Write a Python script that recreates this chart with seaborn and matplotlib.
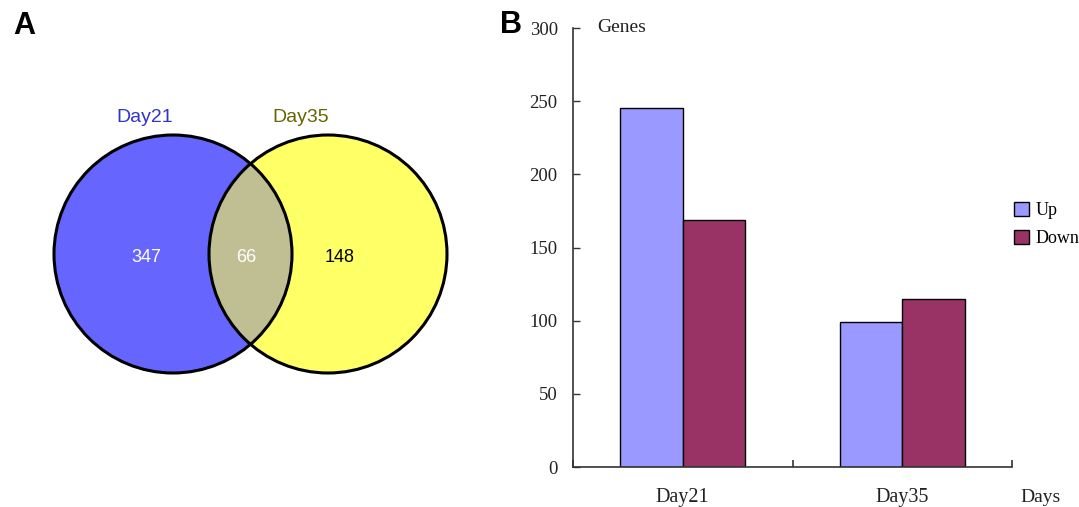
import matplotlib.pyplot as plt
import numpy as np
import pandas as pd
import seaborn as sns
from matplotlib.patches import Circle, Patch

# venn counts
venn_sets = ['Day21', 'Day35']
venn_counts = [347, 66, 148]  # only Day21, shared, only Day35

# bar chart data
days = ['Day21', 'Day21', 'Day35', 'Day35']
direction = ['Up', 'Down', 'Up', 'Down']
genes = [245, 169, 99, 115]
y_ticks = [0, 50, 100, 150, 200, 250, 300]

df = pd.DataFrame({'day': days, 'direction': direction, 'genes': genes})

sns.set_theme(style='white')
plt.rcParams['font.family'] = ['Liberation Serif', 'DejaVu Serif']
plt.rcParams['text.color'] = 'black'

W, H = 1079, 507
fig = plt.figure(figsize=(W / 100, H / 100), dpi=100)
fig.patch.set_facecolor('white')

# ---- panel A: venn, drawn in pixel coordinates
va = fig.add_axes([0, 0, 0.46, 1])
va.set_xlim(0, 0.46 * W)
va.set_ylim(H, 0)
va.axis('off')

r = 119
c1 = (173, 254)
c2 = (328, 254)
left = Circle(c1, r, facecolor='#6666FF', edgecolor='none')
right = Circle(c2, r, facecolor='#FFFF66', edgecolor='none')
va.add_patch(left)
va.add_patch(right)
mid = Circle(c2, r, facecolor='#BFBF93', edgecolor='none')
va.add_patch(mid)
mid.set_clip_path(left)
for c in (c1, c2):
    va.add_patch(Circle(c, r, facecolor='none', edgecolor='black', lw=2.2))

sans = ['Liberation Sans', 'DejaVu Sans']
va.text(145, 118, venn_sets[0], color='#3333CC', fontsize=14, family=sans,
        ha='center', va='center')
va.text(301, 118, venn_sets[1], color='#666600', fontsize=14, family=sans,
        ha='center', va='center')
va.text(146, 257, str(venn_counts[0]), color='white', fontsize=13, family=sans,
        ha='center', va='center')
va.text(246, 257, str(venn_counts[1]), color='white', fontsize=13, family=sans,
        ha='center', va='center')
va.text(340, 257, str(venn_counts[2]), color='black', fontsize=13, family=sans,
        ha='center', va='center')

fig.text(24 / W, 1 - 26 / H, 'A', fontsize=22, fontweight='bold', family=sans,
         color='black', ha='center', va='center')
fig.text(511 / W, 1 - 25 / H, 'B', fontsize=22, fontweight='bold', family=sans,
         color='black', ha='center', va='center')

# ---- panel B: bars
x0, x1 = 573, 1012
y0, y1 = 467, 28
ax = fig.add_axes([x0 / W, 1 - y0 / H, (x1 - x0) / W, (y0 - y1) / H])
sns.barplot(data=df, x='day', y='genes', hue='direction',
            palette={'Up': '#9999FF', 'Down': '#993366'}, width=0.57,
            saturation=1, edgecolor='black', linewidth=1, ax=ax, legend=False)
ax.set_facecolor('white')
ax.set_xlim(-0.5, 1.5)
ax.set_ylim(0, 300)
ax.set_xlabel('')
ax.set_ylabel('')
for s in ['top', 'right']:
    ax.spines[s].set_visible(False)
for s in ['left', 'bottom']:
    ax.spines[s].set_color('#333333')
    ax.spines[s].set_linewidth(1.2)

ax.set_yticks(y_ticks)
ax.set_yticklabels([str(t) for t in y_ticks], fontsize=13.5, color='#222222')
ax.tick_params(axis='y', direction='in', length=5, width=1, color='#333333',
               pad=11, left=True)
ax.set_xticks([-0.5, 0.5, 1.5])
ax.set_xticklabels([])
ax.tick_params(axis='x', which='major', direction='in', length=5, width=1.2,
               color='#333333', bottom=True)
ax.set_xticks([0, 1], minor=True)
ax.set_xticklabels(['Day21', 'Day35'], minor=True, fontsize=14.5, color='#222222')
ax.tick_params(axis='x', which='minor', length=0, pad=15)

fig.text(1041 / W, 1 - 497 / H, 'Days', fontsize=14, color='#222222',
         ha='center', va='center')
fig.text(622 / W, 1 - 27 / H, 'Genes', fontsize=14, color='#222222',
         ha='center', va='center')

handles = [Patch(facecolor='#9999FF', edgecolor='black', lw=1, label='Up'),
           Patch(facecolor='#993366', edgecolor='black', lw=1, label='Down')]
fig.legend(handles=handles, loc='upper left', bbox_to_anchor=(998 / W, 1 - 186 / H),
           frameon=False, fontsize=13, handlelength=0.8, handleheight=0.8,
           handletextpad=0.4, labelspacing=0.6)

fig.savefig('out.png', dpi=100)
